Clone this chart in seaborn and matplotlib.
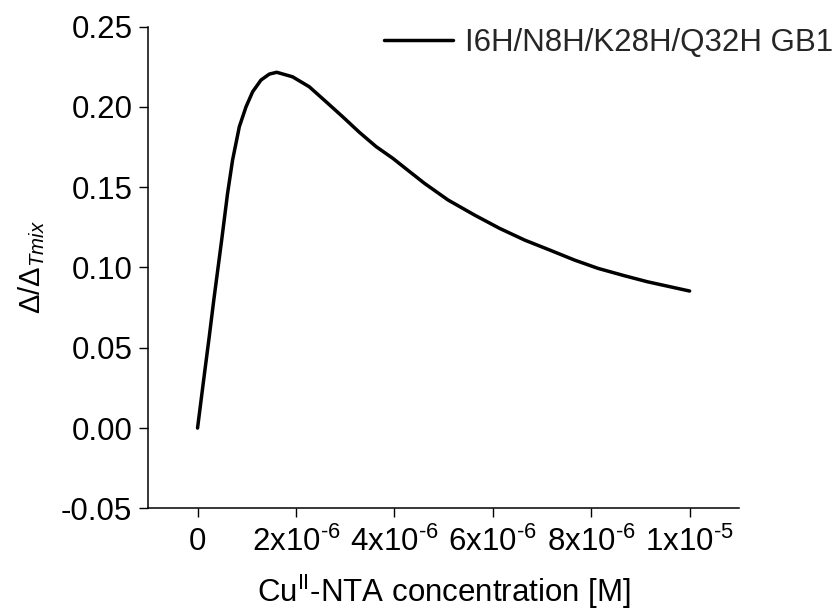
import matplotlib
matplotlib.use("Agg")
import matplotlib.pyplot as plt
import seaborn as sns
import pandas as pd

# Cu(II)-NTA concentration [M] and normalised signal for the GB1 variant
conc = [0.0, 0.12e-6, 0.238e-6, 0.33e-6, 0.49e-6, 0.61e-6,
        0.712e-6, 0.849e-6, 0.985e-6, 1.12e-6, 1.29e-6, 1.46e-6, 1.61e-6,
        1.93e-6, 2.27e-6, 2.61e-6, 2.95e-6, 3.29e-6, 3.63e-6, 3.97e-6,
        4.27e-6, 4.61e-6, 5.09e-6, 5.63e-6, 6.14e-6, 6.65e-6, 7.16e-6,
        7.66e-6, 8.14e-6, 8.68e-6, 9.14e-6, 1.0e-5]
ratio = [0.0, 0.029, 0.057, 0.0797, 0.117, 0.1461,
         0.1669, 0.1876, 0.200, 0.2094, 0.2167, 0.2204, 0.2215,
         0.2187, 0.2125, 0.2032, 0.1938, 0.1841, 0.1752, 0.1679,
         0.1606, 0.1524, 0.142, 0.1326, 0.1243, 0.117, 0.1108,
         0.1046, 0.0994, 0.0948, 0.0911, 0.0853]
series_name = "I6H/N8H/K28H/Q32H GB1"

x_ticks = [0, 2e-6, 4e-6, 6e-6, 8e-6, 1e-5]
x_ticklabels = ["0", "2x10$^{\\text{-6}}$", "4x10$^{\\text{-6}}$",
                "6x10$^{\\text{-6}}$", "8x10$^{\\text{-6}}$",
                "1x10$^{\\text{-5}}$"]
y_ticks = [-0.05, 0.00, 0.05, 0.10, 0.15, 0.20, 0.25]
y_ticklabels = ["-0.05", "0.00", "0.05", "0.10", "0.15", "0.20", "0.25"]

sns.set_style("ticks")
plt.rcParams["font.family"] = ["Liberation Sans", "DejaVu Sans"]
plt.rcParams["mathtext.fontset"] = "custom"
plt.rcParams["mathtext.rm"] = "Liberation Sans"
plt.rcParams["mathtext.it"] = "Liberation Sans:italic"
plt.rcParams["mathtext.bf"] = "Liberation Sans:bold"
plt.rcParams["axes.unicode_minus"] = False

df = pd.DataFrame({"conc": conc, "ratio": ratio, "series": series_name})

fig = plt.figure(figsize=(8.32, 6.11), dpi=100)
ax = fig.add_axes([0.1783, 0.168, 0.888 - 0.1783, 0.9566 - 0.168])

sns.lineplot(data=df, x="conc", y="ratio", hue="series", palette=["black"],
             linewidth=2.5, ax=ax, sort=False, legend=True)

ax.set_xlim(-1.0e-6, 1.1e-5)
ax.set_ylim(-0.05, 0.25)
ax.set_xticks(x_ticks)
ax.set_xticklabels(x_ticklabels)
ax.set_yticks(y_ticks)
ax.set_yticklabels(y_ticklabels)
ax.tick_params(axis="both", direction="out", length=6.5, width=1.0,
               color="black", labelsize=22.5, labelcolor="black")
ax.tick_params(axis="x", pad=7)
ax.tick_params(axis="y", pad=5)

for side in ("top", "right"):
    ax.spines[side].set_visible(False)
for side in ("left", "bottom"):
    ax.spines[side].set_linewidth(1.1)
    ax.spines[side].set_color("black")

ax.set_xlabel("Cu$^{\\mathrm{II}}$-NTA concentration [M]", fontsize=22.5,
              labelpad=10, color="black")
ax.set_ylabel("$\\Delta/\\Delta_{Tmix}$", fontsize=21, labelpad=10,
              color="black")

handles, labels = ax.get_legend_handles_labels()
ax.legend(handles, labels, loc="center left",
          bbox_to_anchor=(384 / 832, 1 - 43 / 611),
          bbox_transform=fig.transFigure, frameon=False, fontsize=22.5,
          handlelength=2.2, handletextpad=0.4, borderaxespad=0,
          borderpad=0)

fig.savefig("out.png", dpi=100)
